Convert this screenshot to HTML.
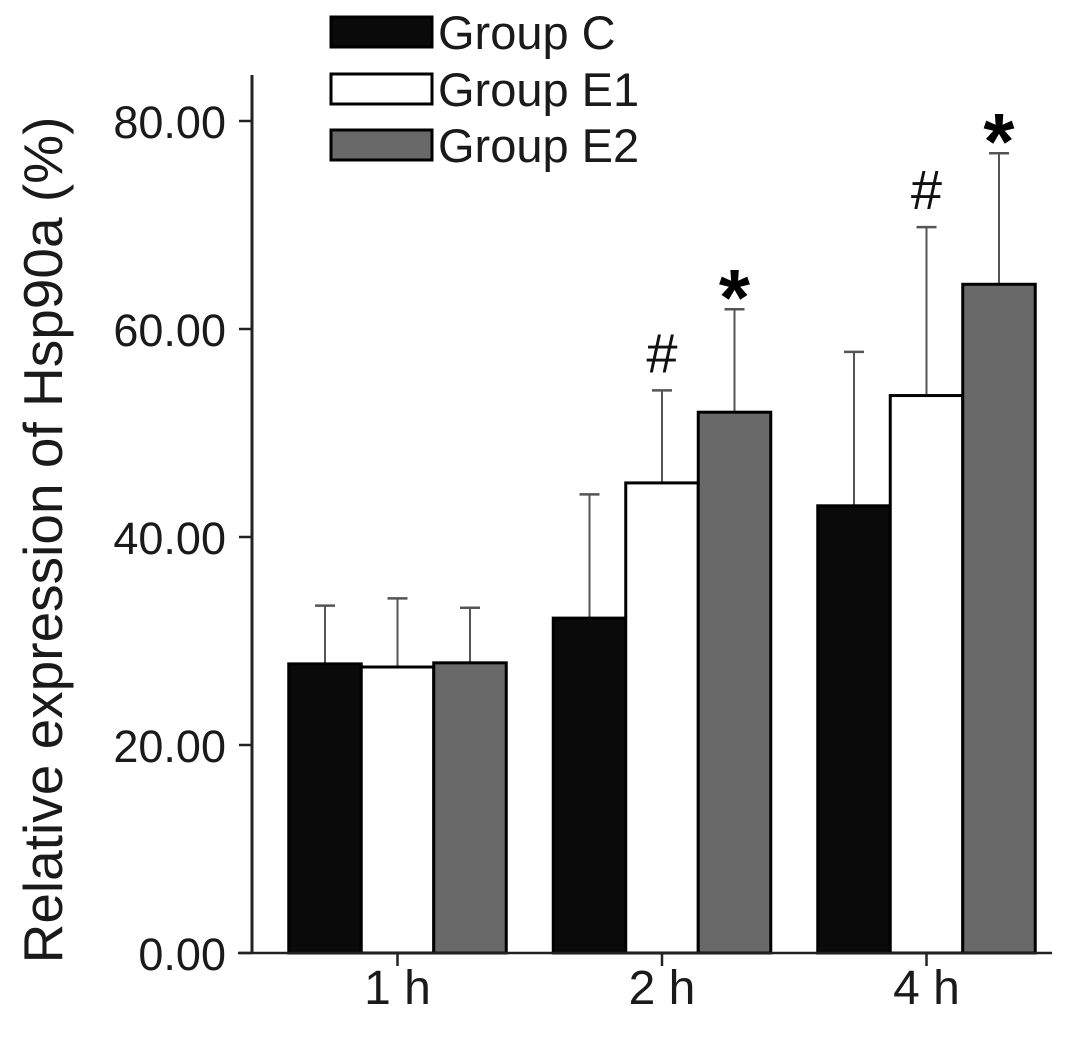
<!DOCTYPE html>
<html><head><meta charset="utf-8"><style>
html,body{margin:0;padding:0;background:#fff;}
svg{display:block;font-family:"Liberation Sans",Arial,sans-serif;}
</style></head><body>
<svg id="chart" width="1087" height="1037" viewBox="0 0 1087 1037"></svg>
<script>
const categories = ["1 h","2 h","4 h"];
const seriesNames = ["Group C","Group E1","Group E2"];
const valuesC = [27.8, 32.2, 43.0];
const valuesE1 = [27.5, 45.2, 53.6];
const valuesE2 = [27.9, 52.0, 64.3];
const errTopC = [33.4, 44.1, 57.8];
const errTopE1 = [34.1, 54.1, 69.8];
const errTopE2 = [33.2, 61.9, 76.9];
const marksE1 = ["", "#", "#"];
const marksE2 = ["", "*", "*"];
const yTicks = [0, 20, 40, 60, 80];
const yTickLabels = ["0.00","20.00","40.00","60.00","80.00"];

const NS = "http://www.w3.org/2000/svg";
const svg = document.getElementById("chart");
function mk(tag, attrs, parent){const e=document.createElementNS(NS,tag);for(const k in attrs)e.setAttribute(k,attrs[k]);(parent||svg).appendChild(e);return e;}
const y0 = 953, pxPerUnit = 10.4;
function yScale(v){return y0 - v*pxPerUnit;}
const groupCenters0 = 397.5, groupStep = 264.5, barW = 72.5;
function xGroup(i){return groupCenters0 + i*groupStep;}
function xBar(i, s){return xGroup(i) - 1.5*barW + s*barW;}

const fills = ["#0a0a0a","#ffffff","#696969"];
const vals = [valuesC, valuesE1, valuesE2];
const errs = [errTopC, errTopE1, errTopE2];

for(let s=0;s<3;s++){
  for(let i=0;i<categories.length;i++){
    const cx = xBar(i,s)+barW/2;
    const l = mk("line",{x1:cx,x2:cx,y1:yScale(vals[s][i]),y2:yScale(errs[s][i]),stroke:"#555","stroke-width":2});
    
    
    const c = mk("line",{x1:cx-10,x2:cx+10,y1:yScale(errs[s][i]),y2:yScale(errs[s][i]),stroke:"#555","stroke-width":2.5});
    
    
  }
}
for(let s=0;s<3;s++){
  for(let i=0;i<categories.length;i++){
    const yt = yScale(vals[s][i]);
    const r = mk("rect",{x:xBar(i,s),y:yt,width:barW,height:y0-yt,fill:fills[s],stroke:"#000","stroke-width":3});
    
    
  }
}
for(let i=0;i<categories.length;i++){
  if(marksE1[i]){
    const t = mk("text",{x:xBar(i,1)+barW/2,y:yScale(errTopE1[i])-18,"text-anchor":"middle","font-size":56,fill:"#111"});
    t.textContent = marksE1[i];
    
    
  }
  if(marksE2[i]){
    const t = mk("text",{x:xBar(i,2)+barW/2,y:yScale(errTopE2[i])+16,"text-anchor":"middle","font-size":80,"font-weight":"bold",fill:"#000"});
    t.textContent = marksE2[i];
    
    
  }
}
const ya = mk("line",{x1:252,x2:252,y1:75,y2:954,stroke:"#222","stroke-width":3});


const xa = mk("line",{x1:238,x2:1052,y1:953,y2:953,stroke:"#222","stroke-width":2.5});


for(let k=0;k<yTicks.length;k++){
  const yy = yScale(yTicks[k]);
  const tk = mk("line",{x1:239,x2:252,y1:yy,y2:yy,stroke:"#222","stroke-width":2.5});
  
  
  const tl = mk("text",{x:226,y:yy+17,"text-anchor":"end","font-size":45,fill:"#1a1a1a"});
  tl.textContent = yTickLabels[k];
  
  
}
for(let i=0;i<categories.length;i++){
  const cx = xGroup(i);
  const tk = mk("line",{x1:cx,x2:cx,y1:953,y2:966,stroke:"#222","stroke-width":2.5});
  
  
  const tl = mk("text",{x:cx,y:1004,"text-anchor":"middle","font-size":48,fill:"#1a1a1a"});
  tl.textContent = categories[i];
  
  
}
const yt = mk("text",{x:0,y:0,transform:"translate(62,540) rotate(-90)","text-anchor":"middle","font-size":55,fill:"#1a1a1a"});
yt.textContent = "Relative expression of Hsp90a (%)";


const legY = [17, 74, 130];
for(let s=0;s<3;s++){
  const r = mk("rect",{x:331,y:legY[s],width:101,height:30,fill:fills[s],stroke:"#000","stroke-width":3});
  
  
  const t = mk("text",{x:438,y:legY[s]+32,"font-size":47,fill:"#1a1a1a"});
  t.textContent = seriesNames[s];
  
  
}
</script>
</body></html>
